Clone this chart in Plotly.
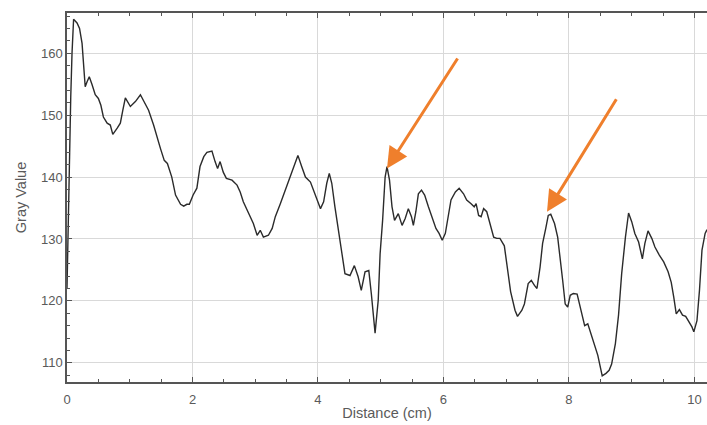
import plotly.graph_objects as go

distance_cm = [0.0, 0.01, 0.02, 0.03, 0.045, 0.06, 0.08, 0.105, 0.16, 0.2, 0.24, 0.26, 0.29, 0.32, 0.355, 0.4, 0.45, 0.5, 0.54, 0.58, 0.64, 0.69, 0.73, 0.8, 0.85, 0.89, 0.93, 1.01, 1.09, 1.17, 1.25, 1.3, 1.38, 1.43, 1.49, 1.55, 1.6, 1.67, 1.73, 1.81, 1.86, 1.91, 1.95, 2.01, 2.07, 2.12, 2.18, 2.23, 2.31, 2.36, 2.4, 2.44, 2.49, 2.54, 2.63, 2.71, 2.76, 2.81, 2.87, 2.92, 2.97, 3.03, 3.08, 3.13, 3.21, 3.27, 3.32, 3.4, 3.48, 3.56, 3.68, 3.74, 3.8, 3.88, 3.96, 4.04, 4.09, 4.14, 4.18, 4.22, 4.27, 4.33, 4.38, 4.43, 4.51, 4.58, 4.64, 4.69, 4.75, 4.81, 4.85, 4.89, 4.91, 4.96, 4.99, 5.03, 5.07, 5.1, 5.14, 5.18, 5.22, 5.28, 5.34, 5.39, 5.44, 5.49, 5.52, 5.56, 5.6, 5.65, 5.7, 5.76, 5.83, 5.88, 5.93, 5.98, 6.03, 6.07, 6.12, 6.19, 6.25, 6.32, 6.37, 6.44, 6.49, 6.52, 6.56, 6.6, 6.64, 6.69, 6.74, 6.8, 6.85, 6.9, 6.97, 7.02, 7.07, 7.14, 7.18, 7.25, 7.29, 7.35, 7.4, 7.45, 7.49, 7.54, 7.58, 7.63, 7.67, 7.71, 7.77, 7.82, 7.86, 7.9, 7.94, 7.98, 8.02, 8.07, 8.13, 8.16, 8.21, 8.25, 8.3, 8.35, 8.41, 8.46, 8.5, 8.53, 8.59, 8.64, 8.68, 8.74, 8.79, 8.84, 8.9, 8.95, 9.0, 9.05, 9.11, 9.17, 9.21, 9.26, 9.32, 9.37, 9.44, 9.51, 9.58, 9.63, 9.67, 9.71, 9.76, 9.81, 9.86, 9.92, 9.96, 9.99, 10.04, 10.08, 10.12, 10.17, 10.2]

gray_value = [122, 128, 136, 142, 147, 153, 160, 165.5, 164.9, 164, 161.6, 158.9, 154.6, 155.4, 156.2, 154.9, 153.3, 152.7, 151.6, 149.7, 148.7, 148.4, 146.9, 147.9, 148.7, 150.8, 152.8, 151.4, 152.2, 153.3, 151.6, 150.8, 148.4, 146.5, 144.6, 142.7, 142.2, 140, 137.1, 135.6, 135.3, 135.6, 135.6, 137.1, 138.2, 141.7, 143.3, 144, 144.2, 142.5, 141.4, 142.5, 140.8, 139.8, 139.5, 138.7, 137.6, 136, 134.6, 133.6, 132.5, 130.6, 131.4, 130.3, 130.6, 131.7, 133.6, 135.7, 137.9, 140.4, 143.5, 141.7, 140, 139.2, 137.1, 134.9, 136, 139, 140.6, 139, 135.2, 130.9, 127.6, 124.4, 124.1, 125.7, 123.9, 121.7, 124.7, 124.9, 121.2, 116.8, 114.8, 120.1, 127.6, 133, 140, 141.7, 139.5, 135.2, 133, 134.1, 132.2, 133.3, 134.9, 133.6, 132.2, 134.4, 137.3, 137.9, 137.1, 135.2, 133.3, 131.7, 130.9, 129.8, 130.9, 133.6, 136.3, 137.6, 138.2, 137.3, 136.3, 135.7, 135.2, 135.7, 133.8, 133.6, 134.9, 134.4, 132.5, 130.3, 130.1, 130.1, 128.9, 125.5, 121.5, 118.5, 117.5, 118.5, 119.5, 122.8, 123.3, 122.5, 122, 125.5, 129.3, 131.7, 133.8, 134, 132.5, 130.3, 127.1, 123.3, 119.5, 119, 120.9, 121.2, 121.1, 119.8, 117.4, 116, 116.3, 114.7, 113.1, 111.2, 109.3, 107.9, 108.3, 108.8, 109.8, 113.1, 117.7, 124.4, 130.3, 134.2, 132.8, 130.9, 129.5, 126.8, 129.3, 131.3, 130.1, 128.7, 127.4, 126.3, 124.7, 123, 120.6, 117.9, 118.6, 117.7, 117.5, 116.6, 115.8, 115, 116.8, 121.7, 128.2, 130.9, 131.5]

x_ticks = [0, 2, 4, 6, 8, 10]
y_ticks = [110, 120, 130, 140, 150, 160]

# arrows: (tail x, tail y, tip x, tip y)
arrow_tails_x = [6.24, 8.77]
arrow_tails_y = [159.4, 152.8]
arrow_tips_x = [5.1, 7.65]
arrow_tips_y = [141.4, 134.4]

fig = go.Figure()
fig.add_trace(go.Scatter(
    x=distance_cm, y=gray_value, mode="lines",
    line=dict(color="#2b2b2b", width=1.4),
    showlegend=False, hoverinfo="skip",
))

for tx, ty, hx, hy in zip(arrow_tails_x, arrow_tails_y, arrow_tips_x, arrow_tips_y):
    fig.add_annotation(
        x=hx, y=hy, ax=tx, ay=ty, xref="x", yref="y", axref="x", ayref="y",
        text="", showarrow=True, arrowhead=2, arrowsize=1.4, arrowwidth=3,
        arrowcolor="#ef7f2c", standoff=0,
    )

tick_font = dict(family="Liberation Sans, Arial, sans-serif", size=13, color="#5a5a5a")
title_font = dict(family="Liberation Sans, Arial, sans-serif", size=14.5, color="#5a5a5a")

fig.update_layout(
    width=707, height=425,
    margin=dict(l=67, r=0, t=13, b=43),
    paper_bgcolor="white", plot_bgcolor="white",
    font=tick_font,
    xaxis=dict(
        range=[0, 10.2], tickvals=x_ticks, ticktext=[str(v) for v in x_ticks],
        showgrid=True, gridcolor="#d9d9d9", gridwidth=1,
        showline=True, linecolor="#555555", linewidth=1.5, mirror="ticks",
        ticks="inside", ticklen=5, tickcolor="#555555", tickwidth=1,
        minor=dict(dtick=0.5, tick0=0, ticks="inside", ticklen=3, tickcolor="#555555", showgrid=False),
        zeroline=False, ticklabelstandoff=5,
        title=dict(text="Distance (cm)", font=title_font, standoff=2),
        tickfont=tick_font,
    ),
    yaxis=dict(
        range=[106.9, 166.5], tickvals=y_ticks, ticktext=[str(v) for v in y_ticks],
        showgrid=True, gridcolor="#d9d9d9", gridwidth=1,
        showline=True, linecolor="#555555", linewidth=1.5,
        ticks="inside", ticklen=5, tickcolor="#555555", tickwidth=1,
        minor=dict(dtick=2, tick0=0, ticks="inside", ticklen=3, tickcolor="#555555", showgrid=False),
        zeroline=False,
        title=dict(text="Gray Value", font=title_font, standoff=11),
        tickfont=tick_font,
    ),
)

fig.write_html("out.html")
